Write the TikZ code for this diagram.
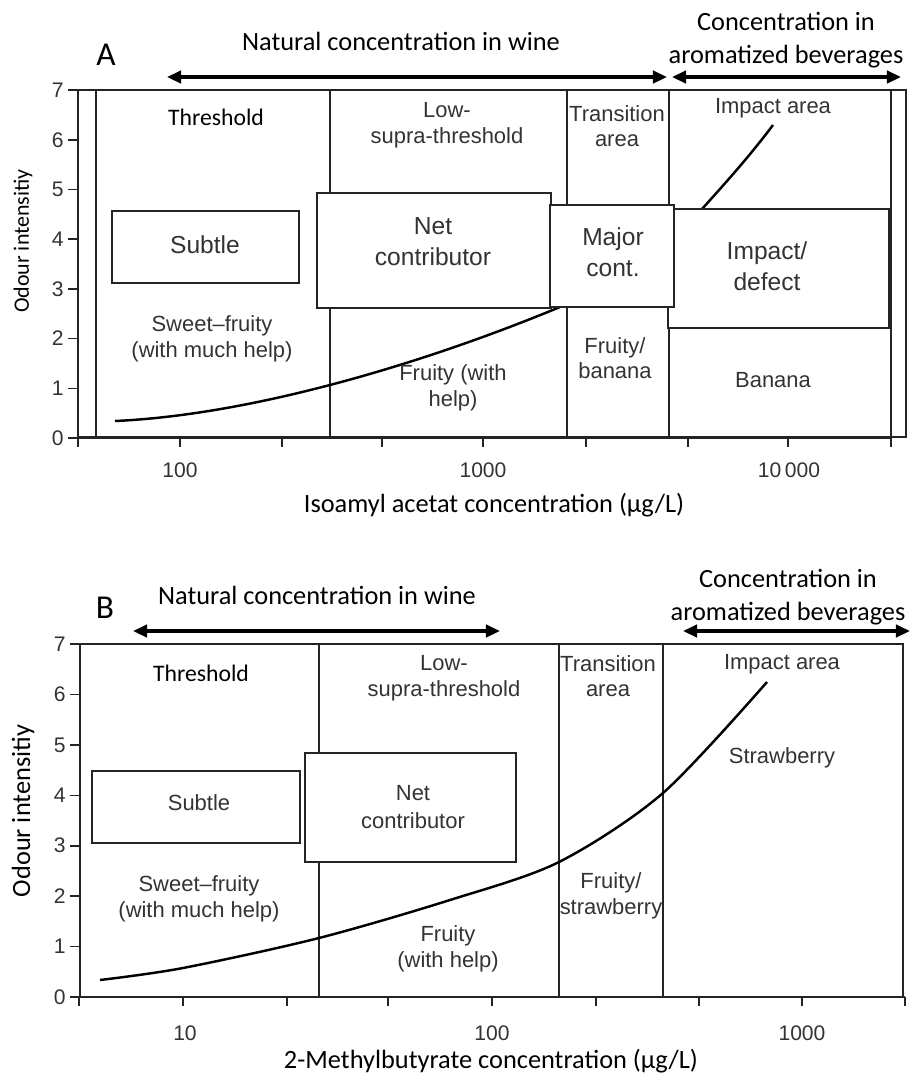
\documentclass[tikz,border=0pt]{standalone}
\usepackage{fontspec}
\setmainfont{Carlito}
\newfontfamily\arialfont{Liberation Sans}
\usepackage{tikz}
\usetikzlibrary{arrows.meta,positioning}
\definecolor{ink}{HTML}{242424}
\definecolor{labelgray}{HTML}{333333}

\begin{document}
\begin{tikzpicture}[x=0.02cm,y=-0.02cm]
          %% page size, in pixels of the reference
          \useasboundingbox (0,0) rectangle (911,1073);

          \tikzstyle{thinframe}=[draw=ink,line width=0.9pt]
          \tikzstyle{axisframe}=[draw=ink,line width=1.6pt]
          \tikzstyle{divider}=[draw=ink,line width=1.4pt]
          \tikzstyle{boxed}=[draw=ink,line width=1.5pt,fill=white]
          \tikzstyle{spanarrow}=[draw=black,line width=2.4pt,{Triangle[length=8pt,width=7pt]}-{Triangle[length=8pt,width=7pt]}]
          \tikzstyle{response}=[draw=black,line width=1.4pt]
          \tikzstyle{region}=[font=\arialfont\fontsize{12.5}{14.5}\selectfont,text=labelgray,align=center,inner sep=0pt]
          \tikzstyle{bigregion}=[font=\arialfont\fontsize{14}{17.5}\selectfont,text=labelgray,align=center,inner sep=0pt]
          \tikzstyle{midregion}=[font=\arialfont\fontsize{12.5}{16}\selectfont,text=labelgray,align=center,inner sep=0pt]
          \tikzstyle{ticklab}=[font=\arialfont\fontsize{12}{14}\selectfont,text=labelgray,inner sep=0pt]
          \tikzstyle{headline}=[font=\fontsize{15}{18}\selectfont,align=center,inner sep=0pt]
          \tikzstyle{zonelab}=[font=\fontsize{13.5}{16}\selectfont,inner sep=0pt]
          \tikzstyle{panellab}=[font=\fontsize{19}{22}\selectfont,inner sep=0pt]

          %%%%%%%%%%%%%%%% PANEL A

          \node[panellab] (lblA) at (106,55) {A};
          \node[headline] (natA) at (401,41) {Natural concentration in wine};
          \node[headline] (aroA) at (786,40) {Concentration in\\[1pt]aromatized beverages};
          \coordinate (natAl) at (167,77);
          \coordinate (natAr) at (667,77);
          \coordinate (aroAl) at (672,77);
          \coordinate (aroAr) at (901,77);
          \draw[spanarrow] (natAl) -- (natAr);
          \draw[spanarrow] (aroAl) -- (aroAr);

          % axes and frames
          \draw[thinframe] (78,90) rectangle (906,437);
          \draw[axisframe] (96,90) rectangle (891,438);
          \draw[axisframe] (78,90) -- (78,438) -- (891,438);
          \foreach \v in {0,...,7}
             {\draw[thinframe] (68,438-\v*49.71) -- (78,438-\v*49.71);
              \node[ticklab,anchor=east] (yA\v) at (64,438-\v*49.71) {\v};}
          \foreach \xx in {78,180,282,382,483,586,688,788,891}
             \draw[thinframe] (\xx,438) -- (\xx,447);
          \node[ticklab] (tA1) at (180,470) {100};
          \node[ticklab] (tA2) at (483,470) {1000};
          \node[ticklab] (tA3) at (789,470) {10\,000};
          \node[headline] (xA) at (494,505) {Isoamyl acetat concentration (µg/L)};
          \node[font=\fontsize{12.5}{15}\selectfont,rotate=90] (yA) at (23,241) {Odour intensitiy};

          % dividers
          \draw[divider] (330,90) -- (330,438);
          \draw[divider] (567,90) -- (567,438);
          \draw[divider] (669,90) -- (669,438);

          % response curve
          \draw[response] (115,421) .. controls (250,415) and (420,365) .. (560,307);
          \draw[response] (702,209) .. controls (730,178) and (752,153) .. (773,125);

          % boxes
          \draw[boxed] (112,211) rectangle (299,283);
          \draw[boxed] (317,193) rectangle (551,308);
          \draw[boxed] (668,209) rectangle (889,328);
          \draw[boxed] (550,205) rectangle (674,307);

          % texts
          \node[zonelab] (thrA) at (216,117) {Threshold};
          \node[region] (lowA) at (447,125) {Low-\\supra-threshold};
          \node[region] (traA) at (617,126) {Transition\\area};
          \node[region] (impA) at (773,108) {Impact area};
          \node[bigregion] (subA) at (205,245) {Subtle};
          \node[bigregion] (netA) at (433,242) {Net\\contributor};
          \node[bigregion] (majA) at (613,252) {Major\\cont.};
          \node[bigregion] (defA) at (767,266) {Impact/\\defect};
          \node[region] (swA) at (212,339) {Sweet–fruity\\(with much help)};
          \node[region] (fruA) at (453,388) {Fruity (with\\help)};
          \node[region] (banA) at (615,358) {Fruity/\\banana};
          \node[region] (bnnA) at (773,380) {Banana};

          %%%%%%%%%%%%%%%% PANEL B

          \node[panellab] (lblB) at (105,608) {B};
          \node[headline] (natB) at (317,595) {Natural concentration in wine};
          \node[headline] (aroB) at (788,597) {Concentration in\\[1pt]aromatized beverages};
          \coordinate (natBl) at (133,631);
          \coordinate (natBr) at (500,631);
          \coordinate (aroBl) at (683,631);
          \coordinate (aroBr) at (910,631);
          \draw[spanarrow] (natBl) -- (natBr);
          \draw[spanarrow] (aroBl) -- (aroBr);

          % axes and frame
          \draw[axisframe] (80,644) rectangle (903,997);
          \draw[axisframe] (903,997) -- (905,997);
          \foreach \v in {0,...,7}
             {\draw[thinframe] (70,997-\v*50.43) -- (80,997-\v*50.43);
              \node[ticklab,anchor=east] (yB\v) at (66,997-\v*50.43) {\v};}
          \foreach \xx in {79,183,287,388,492,596,699,802,905}
             \draw[thinframe] (\xx,997) -- (\xx,1006);
          \node[ticklab] (tB1) at (185,1033) {10};
          \node[ticklab] (tB2) at (492,1033) {100};
          \node[ticklab] (tB3) at (802,1033) {1000};
          \node[headline] (xB) at (491,1061) {2-Methylbutyrate concentration (µg/L)};
          \node[font=\fontsize{15}{18}\selectfont,rotate=90] (yB) at (23,811) {Odour intensitiy};

          % dividers
          \draw[divider] (319,644) -- (319,997);
          \draw[divider] (559,644) -- (559,997);
          \draw[divider] (663,644) -- (663,997);

          % boxes
          \draw[boxed] (92,771) rectangle (300,843);
          \draw[boxed] (305,753) rectangle (516,862);

          % response curve
          \draw[response] plot[smooth] coordinates {(100,980) (183,968) (319,938) (450,900) (559,862) (663,793) (767,682)};

          % texts
          \node[zonelab] (thrB) at (201,673) {Threshold};
          \node[region] (lowB) at (444,678) {Low-\\supra-threshold};
          \node[region] (traB) at (608,676) {Transition\\area};
          \node[region] (impB) at (782,664) {Impact area};
          \node[region] (strB) at (782,758) {Strawberry};
          \node[region] (subB) at (199,803) {Subtle};
          \node[midregion] (netB) at (413,807) {Net\\contributor};
          \node[region] (swB) at (199,899) {Sweet–fruity\\(with much help)};
          \node[region] (fruB) at (448,949) {Fruity\\(with help)};
          \node[region] (stfB) at (611,896) {Fruity/\\strawberry};
\end{tikzpicture}
\end{document}
